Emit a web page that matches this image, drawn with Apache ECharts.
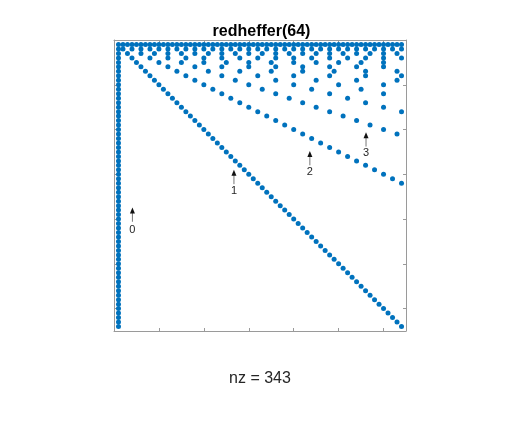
<!DOCTYPE html>
<html>
<head>
<meta charset="utf-8">
<script src="https://cdn.jsdelivr.net/npm/echarts@6/dist/echarts.min.js"></script>
<style>html,body{margin:0;padding:0;background:#fff}#c{width:523px;height:433px}</style>
</head>
<body>
<div id="c"></div>
<script>
// Nonzero column indices of each row (row 1 at top)
const rowCols = [
[1,2,3,4,5,6,7,8,9,10,11,12,13,14,15,16,17,18,19,20,21,22,23,24,25,26,27,28,29,30,31,32,33,34,35,36,37,38,39,40,41,42,43,44,45,46,47,48,49,50,51,52,53,54,55,56,57,58,59,60,61,62,63,64],
[1,2,4,6,8,10,12,14,16,18,20,22,24,26,28,30,32,34,36,38,40,42,44,46,48,50,52,54,56,58,60,62,64],
[1,3,6,9,12,15,18,21,24,27,30,33,36,39,42,45,48,51,54,57,60,63],
[1,4,8,12,16,20,24,28,32,36,40,44,48,52,56,60,64],
[1,5,10,15,20,25,30,35,40,45,50,55,60],
[1,6,12,18,24,30,36,42,48,54,60],
[1,7,14,21,28,35,42,49,56,63],
[1,8,16,24,32,40,48,56,64],
[1,9,18,27,36,45,54,63],
[1,10,20,30,40,50,60],
[1,11,22,33,44,55],
[1,12,24,36,48,60],
[1,13,26,39,52],
[1,14,28,42,56],
[1,15,30,45,60],
[1,16,32,48,64],
[1,17,34,51],
[1,18,36,54],
[1,19,38,57],
[1,20,40,60],
[1,21,42,63],
[1,22,44],
[1,23,46],
[1,24,48],
[1,25,50],
[1,26,52],
[1,27,54],
[1,28,56],
[1,29,58],
[1,30,60],
[1,31,62],
[1,32,64],
[1,33],[1,34],[1,35],[1,36],[1,37],[1,38],[1,39],[1,40],
[1,41],[1,42],[1,43],[1,44],[1,45],[1,46],[1,47],[1,48],
[1,49],[1,50],[1,51],[1,52],[1,53],[1,54],[1,55],[1,56],
[1,57],[1,58],[1,59],[1,60],[1,61],[1,62],[1,63],[1,64]
];
const titleText = 'redheffer(64)';
const xLabelText = 'nz = 343';
// Text arrows (data coordinates)
const annLabels = ['0','1','2','3'];
const annX      = [4.1, 26.7, 43.6, 56.1];
const annHeadY  = [37.4, 29.0, 24.8, 20.6];
const annTailY  = [40.6, 32.2, 28.0, 23.8];
const annTextY  = [42.5, 33.8, 29.5, 25.3];

const points = [];
rowCols.forEach((cols, i) => cols.forEach(c => points.push([c, i + 1])));
const annData = annLabels.map((l, i) => [annX[i], annHeadY[i], annTailY[i], annTextY[i], l]);

const axColor = '#9a9a9a';
const baseAxis = {
  type: 'value', min: 0, max: 65, interval: 10,
  axisLine: { show: true, onZero: false, lineStyle: { color: axColor, width: 1 } },
  axisTick: { show: true, inside: true, length: 3, lineStyle: { color: axColor } },
  axisLabel: { show: false },
  splitLine: { show: false }
};
const chart = echarts.init(document.getElementById('c'), null, { renderer: 'canvas' });
chart.setOption({
  animation: false,
  backgroundColor: '#fff',
  title: {
    text: titleText, left: 'center', top: 19,
    textStyle: { fontFamily: 'Liberation Sans, Arial, sans-serif', fontSize: 16, fontWeight: 'bold', color: '#000' }
  },
  grid: { left: 114, top: 40, right: 117, bottom: 102 },
  xAxis: [
    Object.assign({}, baseAxis, {
      position: 'bottom', name: xLabelText, nameLocation: 'middle', nameGap: 40,
      nameTextStyle: { fontFamily: 'Liberation Sans, Arial, sans-serif', fontSize: 16, color: '#262626' }
    }),
    Object.assign({}, baseAxis, { position: 'top' })
  ],
  yAxis: [
    Object.assign({}, baseAxis, { position: 'left', inverse: true }),
    Object.assign({}, baseAxis, { position: 'right', inverse: true })
  ],
  series: [
    {
      type: 'scatter', xAxisIndex: 0, yAxisIndex: 0,
      symbol: 'circle', symbolSize: 5,
      itemStyle: { color: '#0072BD', opacity: 1 },
      data: points
    },
    {
      type: 'custom', xAxisIndex: 0, yAxisIndex: 0,
      data: annData,
      renderItem: function (params, api) {
        const x = api.value(0);
        const h = api.coord([x, api.value(1)]);
        const t = api.coord([x, api.value(2)]);
        const tt = api.coord([x, api.value(3)]);
        const label = annData[params.dataIndex][4];
        return {
          type: 'group',
          children: [
            { type: 'line', shape: { x1: t[0], y1: t[1], x2: h[0], y2: h[1] + 5 }, style: { stroke: '#777', lineWidth: 1 } },
            { type: 'polygon', shape: { points: [[h[0], h[1]], [h[0] - 2.5, h[1] + 6], [h[0] + 2.5, h[1] + 6]] }, style: { fill: '#111' } },
            { type: 'text', style: { text: label, x: tt[0], y: tt[1], align: 'center', verticalAlign: 'middle',
              fontSize: 11, fontFamily: 'Liberation Sans, Arial, sans-serif', fill: '#262626' } }
          ]
        };
      }
    }
  ]
});
</script>
</body>
</html>
